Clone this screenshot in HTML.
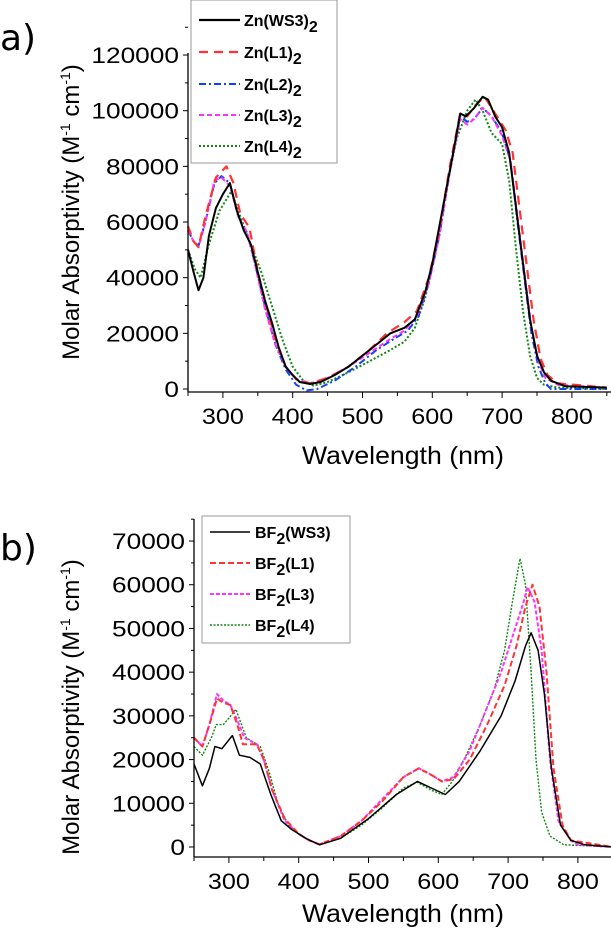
<!DOCTYPE html>
<html><head><meta charset="utf-8"><style>
body{margin:0;background:#fff;width:611px;height:930px;overflow:hidden}
svg{font-family:"Liberation Sans",sans-serif}
</style></head><body>
<svg id="s" width="611" height="930" xmlns="http://www.w3.org/2000/svg">
<text x="0" y="50" font-size="36" font-family="DejaVu Sans,sans-serif">a)</text>
<text x="0" y="560" font-size="36" font-family="DejaVu Sans,sans-serif">b)</text>
<g id="A"></g><g id="B"></g>
<text x="403" y="464" font-size="25" text-anchor="middle" textLength="202" lengthAdjust="spacingAndGlyphs">Wavelength (nm)</text>
<text x="403" y="922" font-size="25" text-anchor="middle" textLength="202" lengthAdjust="spacingAndGlyphs">Wavelength (nm)</text>
<text transform="translate(79,212) rotate(-90)" font-size="24" text-anchor="middle">Molar Absorptivity (M<tspan font-size="14" dy="-9">-1</tspan><tspan dy="9"> cm</tspan><tspan font-size="14" dy="-9">-1</tspan><tspan dy="9">)</tspan></text>
<text transform="translate(79,707) rotate(-90)" font-size="24" text-anchor="middle">Molar Absorptivity (M<tspan font-size="14" dy="-9">-1</tspan><tspan dy="9"> cm</tspan><tspan font-size="14" dy="-9">-1</tspan><tspan dy="9">)</tspan></text>
<rect x="191" y="0" width="146" height="163" fill="#fff" stroke="#999"/>
<rect x="202" y="516" width="148" height="127" fill="#fff" stroke="#999"/>
<g font-size="16" font-weight="bold">
<line x1="199" y1="20" x2="240" y2="20" stroke="#000" stroke-width="2.2"/><text x="244" y="26">Zn(WS3)<tspan dy="6">2</tspan></text>
<line x1="199" y1="52" x2="240" y2="52" stroke="#f33" stroke-width="2.2" stroke-dasharray="9,6"/><text x="244" y="58">Zn(L1)<tspan dy="6">2</tspan></text>
<line x1="199" y1="84" x2="240" y2="84" stroke="#14e" stroke-width="2" stroke-dasharray="7,3,2,3"/><text x="244" y="90">Zn(L2)<tspan dy="6">2</tspan></text>
<line x1="199" y1="115" x2="240" y2="115" stroke="#f3f" stroke-width="2" stroke-dasharray="5,3"/><text x="244" y="121">Zn(L3)<tspan dy="6">2</tspan></text>
<line x1="199" y1="146" x2="240" y2="146" stroke="#181" stroke-width="2" stroke-dasharray="2,2"/><text x="244" y="152">Zn(L4)<tspan dy="6">2</tspan></text>
<line x1="210" y1="532" x2="250" y2="532" stroke="#000" stroke-width="1.5"/><text x="255" y="538">BF<tspan dy="6">2</tspan><tspan dy="-6">(WS3)</tspan></text>
<line x1="210" y1="563" x2="250" y2="563" stroke="#f33" stroke-width="2" stroke-dasharray="6,3"/><text x="255" y="569">BF<tspan dy="6">2</tspan><tspan dy="-6">(L1)</tspan></text>
<line x1="210" y1="594" x2="250" y2="594" stroke="#f3f" stroke-width="2" stroke-dasharray="4,2"/><text x="255" y="600">BF<tspan dy="6">2</tspan><tspan dy="-6">(L3)</tspan></text>
<line x1="210" y1="625" x2="250" y2="625" stroke="#181" stroke-width="1.5" stroke-dasharray="2,1.5"/><text x="255" y="631">BF<tspan dy="6">2</tspan><tspan dy="-6">(L4)</tspan></text>
</g>
</svg>
<script>
const NS="http://www.w3.org/2000/svg";
function el(g,t,a,txt){const e=document.createElementNS(NS,t);for(const k in a)e.setAttribute(k,a[k]);if(txt!==undefined)e.textContent=txt;g.appendChild(e);return e;}
function chart(id,ax,y0,ky,ymax,ystep,axisTop,axisY,series,tickLabelY){
 const g=document.getElementById(id);
 const X=v=>ax+(v-250)*0.698, Y=v=>y0-v*ky;
 series.forEach(s=>{
  let d="";for(let i=0;i<s.p.length;i+=2){d+=(i?"L":"M")+X(s.p[i]).toFixed(1)+","+Y(s.p[i+1]/1000).toFixed(1);}
  el(g,"path",{d:d,fill:"none",stroke:s.c,"stroke-width":s.w,"stroke-dasharray":s.da||"none","stroke-linejoin":"round"});
 });
 el(g,"line",{x1:ax,y1:axisTop,x2:ax,y2:axisY,stroke:"#000","stroke-width":1.3});
 el(g,"line",{x1:ax,y1:axisY,x2:611,y2:axisY,stroke:"#000","stroke-width":1.3});
 for(let v=0;v<=ymax;v+=ystep){const s=String(v*1000);el(g,"line",{x1:ax-5,y1:Y(v),x2:ax,y2:Y(v),stroke:"#000"});el(g,"text",{x:ax-9,y:Y(v)+8,"font-size":22,"text-anchor":"end",textLength:14.6*s.length,lengthAdjust:"spacingAndGlyphs"},s);
  el(g,"line",{x1:ax-3,y1:Y(v+ystep/2),x2:ax,y2:Y(v+ystep/2),stroke:"#000"});}
 for(let w=250;w<=850;w+=50){el(g,"line",{x1:X(w),y1:axisY,x2:X(w),y2:axisY+(w%100?4:6),stroke:"#000"});
  if(w%100==0&&w>=300)el(g,"text",{x:X(w),y:tickLabelY,"font-size":22,"text-anchor":"middle",textLength:42,lengthAdjust:"spacingAndGlyphs"},String(w));}
}
const A=[
{c:"#181",w:2,da:"2,2",p:[250,50000,260,43000,268,40000,280,52000,295,64000,312,71000,325,62000,340,52000,355,42000,370,30000,385,18000,400,8000,415,3000,430,1200,450,2500,480,6000,510,10000,540,14000,560,17000,575,22000,590,33000,605,50000,620,72000,635,90000,650,100000,662,104000,672,100000,685,92000,700,88000,710,75000,720,50000,730,28000,740,12000,750,4000,760,1500,780,500,850,0]},
{c:"#14e",w:2,da:"7,3,2,3",p:[250,57000,258,53000,265,51500,275,60000,288,74000,298,76500,310,74000,322,62000,335,56000,345,46000,360,30000,375,16000,390,7000,405,1500,420,-500,435,0,460,3000,490,8000,520,14000,545,18000,565,21000,580,26000,595,38000,610,55000,625,78000,640,98000,650,96000,660,97000,672,101000,685,98000,700,92000,712,82000,722,60000,732,40000,742,20000,752,8000,762,2000,770,0,850,0]},
{c:"#f3f",w:2,da:"5,3",p:[250,57000,258,53000,265,51000,275,60000,288,75000,298,76000,310,73000,322,62000,335,56000,345,46000,360,29000,375,16000,390,8000,405,3500,425,2000,450,4000,480,8000,510,13000,540,18000,560,21000,578,26000,595,38000,610,55000,625,78000,640,97000,650,95000,660,97000,672,101000,685,98000,700,91000,712,82000,722,62000,732,42000,742,22000,752,10000,762,4000,780,1500,850,500]},
{c:"#f33",w:2.2,da:"9,6",p:[250,58500,258,53000,265,51000,275,62000,290,76000,305,80000,315,74000,325,63000,338,58000,350,42000,362,30000,375,18000,390,8000,405,3500,425,2000,450,4000,480,8000,510,14000,535,20000,560,24000,578,28000,595,40000,610,57000,625,80000,640,99000,650,98000,662,102000,675,105000,690,99000,705,93000,715,85000,725,65000,735,45000,745,25000,755,11000,765,5000,780,2000,850,500]},
{c:"#000",w:2,p:[250,50000,258,42000,265,35500,272,40000,280,55000,290,65000,300,70000,310,74000,320,64000,330,57000,340,52000,350,42000,360,32000,370,24000,380,15000,390,8000,400,5000,410,2500,425,1800,440,2500,460,5000,480,8000,500,12000,520,16000,540,20000,560,22000,575,25000,590,35000,600,45000,615,65000,630,85000,640,99000,648,98000,660,101000,672,105000,680,104000,690,98000,700,94000,710,85000,720,65000,730,45000,740,25000,750,12000,760,6000,770,3000,790,1000,850,500]}];
const B=[
{c:"#181",w:1.4,da:"2,1.5",p:[250,23000,262,21000,275,25000,282,28000,292,28000,300,29500,310,31500,325,25000,345,23000,358,17000,370,10000,385,5000,400,3000,415,1500,430,600,460,2000,490,5000,520,9000,550,13500,570,14800,590,13000,605,12000,620,15000,640,21000,660,28000,680,36000,695,45000,705,55000,717,66000,725,60000,733,40000,740,20000,748,8000,760,2500,780,500,850,0]},
{c:"#f3f",w:2,da:"4,2",p:[250,25000,262,23000,272,28000,283,35000,292,33500,302,32500,312,29000,322,25000,340,23500,350,20000,362,13000,380,6000,400,3000,415,1500,430,600,460,2500,490,6000,520,11000,550,16000,572,18000,590,16500,605,15000,622,16000,645,22000,670,32000,690,40000,710,50000,722,56000,728,59500,738,56000,748,45000,760,20000,772,6000,790,1500,800,500,850,0]},
{c:"#f33",w:2,da:"6,3",p:[250,25000,262,23000,272,28000,283,34000,292,33000,302,32500,312,28000,320,23500,340,23500,350,20000,362,13000,380,6500,400,3000,415,1500,430,600,460,2500,490,6000,520,10500,550,16000,572,18000,590,16500,605,15000,622,15500,645,20000,670,28000,695,37000,712,46000,725,55000,735,60000,745,55000,755,40000,765,18000,778,5000,790,1500,850,0]},
{c:"#000",w:1.5,p:[250,19000,262,14000,272,18000,280,23000,290,22500,305,25500,315,21000,330,20500,345,19000,360,12000,375,6000,390,4000,410,2000,430,500,460,2000,500,6500,540,12000,570,15000,590,13500,610,12000,630,15000,660,22000,690,30000,710,38000,725,46000,733,49000,743,45000,752,35000,762,18000,775,5000,790,1500,810,500,850,0]}];
chart("A",188,389,2.783,120,20,53,392,A,424);
chart("B",194,847,4.371,70,10,519,857,B,889);
</script>
</body></html>
